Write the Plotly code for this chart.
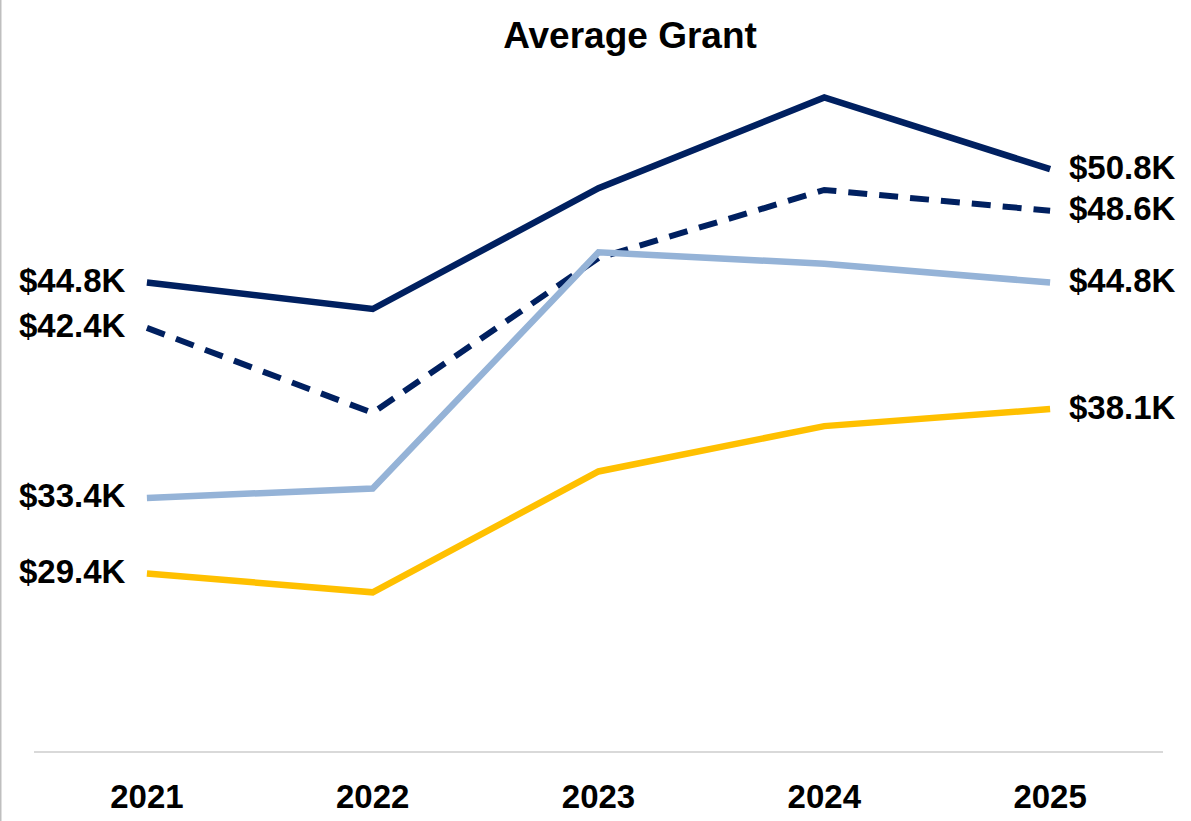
import plotly.graph_objects as go

years = ["2021", "2022", "2023", "2024", "2025"]
navy_solid = [44.8, 43.4, 49.8, 54.6, 50.8]
navy_dashed = [42.4, 37.9, 46.1, 49.7, 48.6]
light_blue = [33.4, 33.9, 46.4, 45.8, 44.8]
yellow = [29.4, 28.4, 34.8, 37.2, 38.1]

left_labels = ["&#36;44.8K", "&#36;42.4K", "&#36;33.4K", "&#36;29.4K"]
left_values = [44.8, 42.4, 33.4, 29.4]
right_labels = ["&#36;50.8K", "&#36;48.6K", "&#36;44.8K", "&#36;38.1K"]
right_values = [50.8, 48.6, 44.8, 38.1]

NAVY = "#002060"
LIGHT = "#95B3D7"
YELLOW = "#FFC000"
FONT = "Liberation Sans, Arial, sans-serif"

fig = go.Figure()
fig.add_trace(go.Scatter(x=years, y=yellow, mode="lines",
                         line=dict(color=YELLOW, width=6.5), hoverinfo="skip"))
fig.add_trace(go.Scatter(x=years, y=navy_dashed, mode="lines",
                         line=dict(color=NAVY, width=6, dash="19px,12px"), hoverinfo="skip"))
fig.add_trace(go.Scatter(x=years, y=light_blue, mode="lines",
                         line=dict(color=LIGHT, width=6.5), hoverinfo="skip"))
fig.add_trace(go.Scatter(x=years, y=navy_solid, mode="lines",
                         line=dict(color=NAVY, width=6.5), hoverinfo="skip"))

annotations = []
for lab, v in zip(left_labels, left_values):
    annotations.append(dict(x=0, y=v, xref="x", yref="y", text="<b>" + lab + "</b>",
                            showarrow=False, xanchor="right", yanchor="middle",
                            xshift=-19, yshift=2, font=dict(family=FONT, size=33, color="black")))
for lab, v in zip(right_labels, right_values):
    annotations.append(dict(x=4, y=v, xref="x", yref="y", text="<b>" + lab + "</b>",
                            showarrow=False, xanchor="left", yanchor="middle",
                            xshift=17, yshift=2, font=dict(family=FONT, size=33, color="black")))

W, H = 1191, 821
ml, mr, mt, mb = 34, 28, 71, 70
pw = W - ml - mr

fig.update_layout(
    width=W, height=H, autosize=False,
    margin=dict(l=ml, r=mr, t=mt, b=mb, autoexpand=False),
    paper_bgcolor="white", plot_bgcolor="white",
    showlegend=False,
    title=dict(text="<b>Average Grant</b>", x=630 / W, xanchor="center",
               xref="container", yref="container",
               y=1 - 35 / H, yanchor="middle",
               font=dict(family=FONT, size=37, color="black")),
    xaxis=dict(type="category", showgrid=False, zeroline=False, automargin=False,
               showline=True, linecolor="#D9D9D9", linewidth=2,
               ticks="", tickfont=dict(family=FONT, size=33, color="black"),
               ticklabelstandoff=15,
               range=[-0.5, 4.5], fixedrange=True),
    yaxis=dict(range=[20, 56], visible=False, fixedrange=True, automargin=False),
    annotations=annotations,
    shapes=[dict(type="line", xref="paper", yref="paper",
                 x0=-(ml - 0.5) / pw, x1=-(ml - 0.5) / pw,
                 y0=-mb / (H - mt - mb), y1=1 + mt / (H - mt - mb),
                 line=dict(color="#BFBFBF", width=2))],
)
fig.update_xaxes(tickprefix="<b>", ticksuffix="</b>")

fig.write_html("out.html", config={"displayModeBar": False},
               post_script="document.body.style.margin='0';document.body.style.overflow='hidden';")
